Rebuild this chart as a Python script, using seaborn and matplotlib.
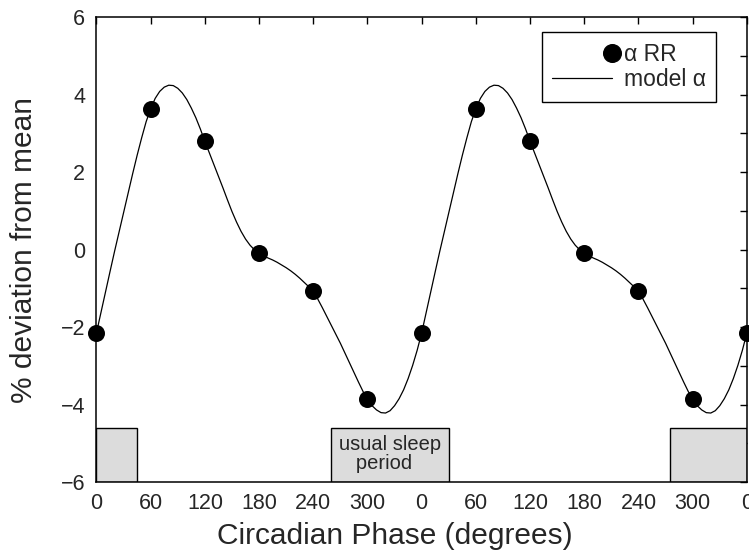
import numpy as np
import pandas as pd
import matplotlib
matplotlib.use("Agg")
import matplotlib.pyplot as plt
import seaborn as sns
from matplotlib.lines import Line2D
from matplotlib.legend_handler import HandlerLine2D
from matplotlib.patches import Rectangle

# ---- data ----
phase_pts = [0, 60, 120, 180, 240, 300, 360, 420, 480, 540, 600, 660, 720]
alpha_rr = [-2.15, 3.63, 2.79, -0.10, -1.07, -3.87, -2.15, 3.63, 2.79, -0.10, -1.07, -3.87, -2.15]

model_phase_cycle = [0, 5, 10, 15, 20, 25, 30, 35, 40, 45, 50, 55, 60, 65, 70, 75, 80, 85, 90,
                     95, 100, 105, 110, 115, 120, 125, 130, 135, 140, 145, 150, 155, 160, 165,
                     170, 175, 180, 185, 190, 195, 200, 205, 210, 215, 220, 225, 230, 235, 240,
                     245, 250, 255, 260, 265, 270, 275, 280, 285, 290, 295, 300, 305, 310, 315,
                     320, 325, 330, 335, 340, 345, 350, 355]
model_alpha_cycle = [-2.15, -1.62, -1.10, -0.57, -0.05, 0.45, 0.95, 1.45, 1.95, 2.43, 2.88, 3.30,
                     3.63, 3.90, 4.08, 4.19, 4.24, 4.23, 4.16, 4.04, 3.87, 3.65, 3.40, 3.11,
                     2.79, 2.49, 2.19, 1.89, 1.59, 1.28, 0.98, 0.71, 0.47, 0.27, 0.11, -0.01,
                     -0.10, -0.16, -0.22, -0.27, -0.33, -0.40, -0.47, -0.55, -0.64, -0.74, -0.85,
                     -0.96, -1.07, -1.28, -1.50, -1.73, -1.96, -2.19, -2.42, -2.67, -2.92, -3.17,
                     -3.42, -3.66, -3.87, -4.03, -4.14, -4.21, -4.22, -4.16, -4.03, -3.85, -3.62,
                     -3.33, -2.99, -2.60]

sleep_periods = [(0, 45), (260, 390), (635, 720)]
sleep_bottom, sleep_top = -6.0, -4.6

xtick_pos = [0, 60, 120, 180, 240, 300, 360, 420, 480, 540, 600, 660, 720]
xtick_labels = ["0", "60", "120", "180", "240", "300", "0", "60", "120", "180", "240", "300", "0"]

# build model series over two cycles
model_phase = model_phase_cycle + [p + 360 for p in model_phase_cycle] + [720]
model_alpha = model_alpha_cycle + model_alpha_cycle + [model_alpha_cycle[0]]

df_pts = pd.DataFrame({"phase": phase_pts, "alpha": alpha_rr})
df_model = pd.DataFrame({"phase": model_phase, "alpha": model_alpha})

# ---- style ----
sns.set_style("white")
plt.rcParams["font.family"] = ["Liberation Sans", "DejaVu Sans"]
plt.rcParams["axes.edgecolor"] = "black"

fig = plt.figure(figsize=(7.49, 5.52), dpi=100)
ax = fig.add_axes([0.1288, 0.1268, 0.8684, 0.8424])

# sleep boxes
for x0, x1 in sleep_periods:
    ax.add_patch(Rectangle((x0, sleep_bottom), x1 - x0, sleep_top - sleep_bottom,
                           facecolor="#dcdcdc", edgecolor="black", linewidth=1.0, zorder=1))
ax.text(325, -5.28, "usual sleep\n   period", ha="center", va="center",
        multialignment="left", fontsize=14.5, linespacing=1.0, zorder=2)

sns.lineplot(data=df_model, x="phase", y="alpha", ax=ax, color="black", linewidth=0.9,
             sort=True, estimator=None, zorder=3)
sns.scatterplot(data=df_pts, x="phase", y="alpha", ax=ax, color="black", s=150,
                edgecolor="black", linewidth=0, zorder=4, clip_on=False)

ax.set_xlim(0, 720)
ax.set_ylim(-6, 6)
ax.set_xticks(xtick_pos)
ax.set_xticklabels(xtick_labels)
ax.set_yticks([-6, -4, -2, 0, 2, 4, 6])
ax.set_yticklabels(["\u22126", "\u22124", "\u22122", "0", "2", "4", "6"])
ax.set_yticks(np.arange(-5, 6, 2), minor=True)
ax.tick_params(axis="both", which="both", direction="in", top=True, right=True,
               length=5, width=1.0, labelsize=15.5, color="black")
ax.tick_params(axis="x", pad=8)
ax.tick_params(axis="y", pad=8)
for sp in ax.spines.values():
    sp.set_linewidth(1.1)
    sp.set_color("black")

ax.set_xlabel("Circadian Phase (degrees)", fontsize=21.5)
ax.set_ylabel("% deviation from mean", fontsize=21.5)
ax.xaxis.set_label_coords(0.459, -0.085)
ax.yaxis.set_label_coords(-0.09, 0.5)


class MarkerRightHandler(HandlerLine2D):
    def get_xdata(self, legend, xdescent, ydescent, width, height, fontsize):
        return [-xdescent + width], [-xdescent + width]


h_pts = Line2D([], [], linestyle="none", marker="o", color="black", markersize=12.7)
h_line = Line2D([], [], color="black", linewidth=0.9)
leg = ax.legend([h_pts, h_line], ["\u03b1 RR", "model \u03b1"],
                handler_map={h_pts: MarkerRightHandler(numpoints=2)},
                loc="upper right", bbox_to_anchor=(0.9525, 0.967), borderaxespad=0,
                fontsize=16.5, handlelength=2.6, handletextpad=0.52, labelspacing=0.12,
                borderpad=0.45, frameon=True, fancybox=False, edgecolor="black")
leg.get_frame().set_linewidth(1.0)
leg.get_frame().set_alpha(1)

fig.savefig("out.png", dpi=100)
